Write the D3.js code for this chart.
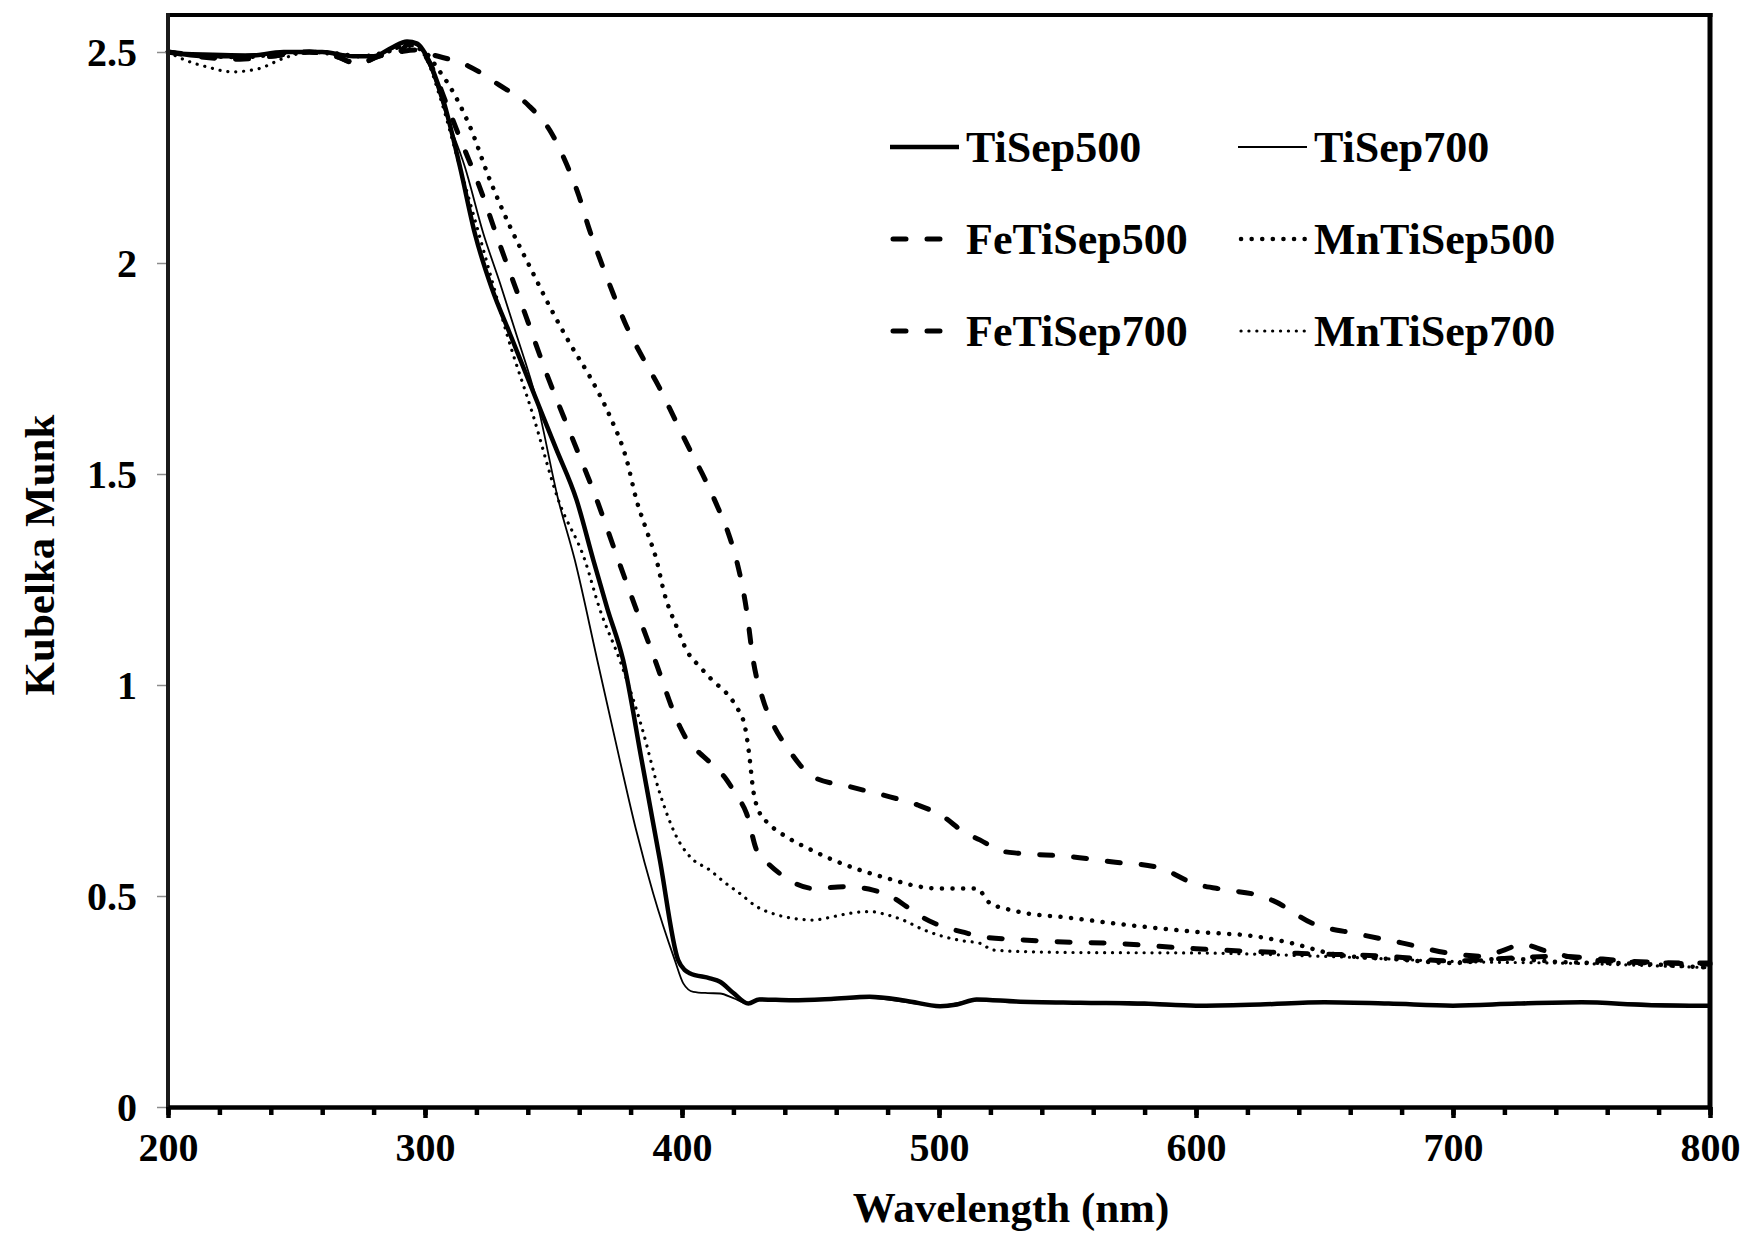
<!DOCTYPE html>
<html>
<head>
<meta charset="utf-8">
<script src="https://cdn.jsdelivr.net/npm/d3@7"></script>
<style>
  body { margin: 0; background: #fff; }
  text { font-family: "Liberation Serif", "Times New Roman", serif; font-weight: bold; fill: #000; }
</style>
</head>
<body>
<svg width="1744" height="1249"></svg>
<script>
// values: [wavelength nm, Kubelka Munk]
var tiSep500 = [[200,2.50],[215,2.49],[230,2.49],[245,2.50],[260,2.50],[272,2.49],[280,2.49],[287,2.51],[293,2.525],[297,2.52],[300,2.497],[303.5,2.45],[307.1,2.386],[313.6,2.228],[319.4,2.07],[326,1.94],[333,1.833],[343.4,1.675],[351,1.56],[359,1.438],[365.5,1.296],[371,1.18],[377.1,1.059],[384.3,0.822],[391.4,0.585],[398.5,0.348],[401,0.325],[403,0.317],[410.9,0.305],[414.8,0.297],[420,0.27],[425.8,0.245],[430,0.255],[443,0.253],[458,0.256],[473,0.261],[487,0.252],[500.4,0.239],[507,0.243],[514.6,0.255],[530,0.25],[555,0.247],[580,0.245],[600,0.24],[625,0.243],[650,0.248],[675,0.245],[700,0.24],[725,0.245],[750,0.248],[775,0.242],[800,0.24]];

var tiSep700 = [[200,2.5],[230,2.495],[260,2.5],[275,2.49],[285,2.5],[293,2.522],[298,2.51],[301.9,2.465],[308.4,2.347],[315.5,2.228],[322.7,2.07],[329.2,1.952],[335,1.841],[343.4,1.675],[351.9,1.438],[358.3,1.296],[367,1.06],[375.8,0.822],[382,0.66],[388.8,0.506],[397.2,0.348],[400.5,0.293],[404.4,0.273],[410,0.27],[414.8,0.269],[420,0.258],[425.8,0.245],[430.3,0.257],[443,0.252],[473,0.258],[500,0.24],[515,0.253],[555,0.247],[600,0.24],[650,0.248],[700,0.24],[750,0.247],[800,0.24]];

var feTiSep500 = [[200,2.5],[215,2.49],[228,2.485],[240,2.49],[255,2.5],[265,2.49],[274,2.473],[282,2.49],[290,2.5],[296,2.505],[303.2,2.493],[316.8,2.467],[328.8,2.422],[340.2,2.374],[349.3,2.307],[355.1,2.234],[360,2.157],[363.8,2.082],[368.7,1.999],[373.3,1.926],[378.5,1.849],[384.5,1.778],[391,1.707],[397.3,1.629],[403.1,1.557],[409.3,1.483],[414,1.42],[418,1.36],[421.2,1.296],[425.1,1.178],[427.7,1.059],[431.6,0.964],[436,0.9],[440.7,0.854],[451.1,0.782],[465.3,0.759],[480.9,0.735],[492,0.715],[501.7,0.688],[510,0.65],[515.9,0.633],[524,0.607],[531.5,0.601],[550,0.594],[567,0.581],[585,0.568],[600,0.528],[611,0.515],[624,0.502],[630,0.489],[645,0.436],[663,0.41],[680,0.389],[700,0.363],[712,0.357],[719,0.37],[727,0.385],[736,0.37],[749,0.352],[766,0.344],[784,0.341],[800,0.341]];

var feTiSep700 = [[200,2.5],[215,2.487],[228,2.483],[240,2.49],[255,2.5],[265,2.49],[274,2.472],[282,2.49],[290,2.5],[294,2.52],[299,2.5],[303,2.46],[307.8,2.386],[314,2.29],[320.7,2.189],[329.2,2.042],[338.2,1.892],[347.3,1.738],[357.1,1.588],[366.4,1.446],[375.2,1.296],[389.5,1.059],[399.2,0.901],[403,0.86],[407,0.838],[412,0.81],[417.4,0.775],[421,0.74],[425.1,0.696],[429,0.609],[433,0.58],[438.1,0.553],[444,0.53],[451.1,0.518],[464,0.522],[474.4,0.514],[481,0.5],[487.4,0.475],[494,0.448],[501.7,0.427],[509,0.415],[517.2,0.403],[530,0.397],[544.5,0.392],[567,0.388],[600,0.375],[641,0.364],[675,0.357],[700,0.346],[720,0.352],[740,0.357],[770,0.345],[800,0.338]];

var mnTiSep500 = [[200,2.5],[215,2.49],[230,2.488],[245,2.497],[260,2.5],[275,2.49],[285,2.5],[293,2.515],[300,2.5],[305,2.46],[309.7,2.418],[317.5,2.323],[325.3,2.196],[333.1,2.086],[340.8,1.991],[348.6,1.896],[356.4,1.809],[364.2,1.73],[372,1.636],[378.5,1.533],[382.3,1.438],[386,1.37],[390.1,1.296],[393,1.22],[397.9,1.138],[402,1.08],[407,1.043],[412,1.01],[417.4,0.98],[421,0.95],[424.5,0.901],[426.4,0.822],[427.5,0.76],[429.7,0.704],[434,0.67],[440.7,0.64],[450,0.61],[458.9,0.585],[470,0.56],[482.2,0.538],[490,0.525],[499.1,0.518],[510,0.518],[514.6,0.518],[519.8,0.483],[526,0.47],[534.1,0.459],[550,0.449],[567,0.436],[600,0.415],[623.6,0.404],[636.6,0.389],[654,0.362],[680,0.349],[700,0.341],[720,0.352],[740,0.344],[770,0.34],[800,0.33]];

var mnTiSep700 = [[200,2.5],[207,2.48],[215,2.465],[225,2.453],[235,2.46],[245,2.485],[255,2.5],[270,2.49],[280,2.49],[290,2.51],[295,2.515],[300,2.49],[306,2.39],[313,2.24],[320,2.09],[326,1.96],[331.8,1.833],[342,1.64],[351.9,1.438],[362.2,1.296],[368,1.18],[375.8,1.059],[384.3,0.901],[391.4,0.743],[397.9,0.64],[403.1,0.593],[410.9,0.561],[416,0.535],[422.5,0.506],[429,0.475],[436,0.457],[443.3,0.447],[451.1,0.443],[458,0.45],[465.3,0.459],[473.1,0.463],[480,0.455],[486,0.443],[494,0.42],[501.7,0.404],[509,0.394],[515.9,0.388],[521.1,0.372],[535,0.368],[554.8,0.366],[600,0.365],[650,0.357],[700,0.345],[750,0.34],[800,0.33]];

var seriesNames = ["TiSep500", "TiSep700", "FeTiSep500", "MnTiSep500", "FeTiSep700", "MnTiSep700"];
var seriesData = [tiSep500, tiSep700, feTiSep500, mnTiSep500, feTiSep700, mnTiSep700];
var xTicks = [200, 300, 400, 500, 600, 700, 800];
var yTicks = [0, 0.5, 1, 1.5, 2, 2.5];

// line looks per series (same order as the names)
var styles = [
  { w: 4.5, dash: null, cap: "butt" },
  { w: 1.8, dash: null, cap: "butt" },
  { w: 5, dash: "13,21", cap: "round" },
  { w: 4.5, dash: "0.1,10.5", cap: "round" },
  { w: 5, dash: "13,21", cap: "round" },
  { w: 3.2, dash: "0.1,7.8", cap: "round" }
];

var svg = d3.select("svg");
var frameTop = 15;

var scaleX = d3.scaleLinear().domain([200, 800]).range([168, 1710]);
var scaleY = d3.scaleLinear().domain([0, 2.5]).range([1107, 52]);

var line = d3.line()
  .x(function(d) { return scaleX(d[0]); })
  .y(function(d) { return scaleY(d[1]); })
  .curve(d3.curveMonotoneX);

// curves
svg.append("g").selectAll("path")
  .data(seriesData)
  .enter()
  .append("path")
  .attr("d", line)
  .attr("fill", "none")
  .attr("stroke", "#000")
  .attr("stroke-width", function(d, i) { return styles[i].w; })
  .attr("stroke-dasharray", function(d, i) { return styles[i].dash; })
  .attr("stroke-linecap", function(d, i) { return styles[i].cap; })
  .attr("stroke-linejoin", "round");

// frame: top and right border
svg.append("line")
  .attr("x1", scaleX(200) - 2).attr("x2", scaleX(800) + 2.5)
  .attr("y1", frameTop).attr("y2", frameTop)
  .attr("stroke", "#000").attr("stroke-width", 4);
svg.append("line")
  .attr("x1", scaleX(800)).attr("x2", scaleX(800))
  .attr("y1", frameTop - 2).attr("y2", scaleY(0))
  .attr("stroke", "#000").attr("stroke-width", 5);

// y axis
var yAxis = svg.append("g")
  .attr("transform", "translate(" + scaleX(200) + ",0)")
  .call(d3.axisLeft(scaleY).tickValues(yTicks).tickSize(11).tickPadding(20).tickFormat(d3.format("")));
yAxis.select(".domain").remove();
yAxis.selectAll("line").attr("stroke", "#8c8c8c").attr("stroke-width", 1.5);
yAxis.selectAll("text").style("font-size", "40px").attr("dy", "0.34em");

svg.append("line")
  .attr("x1", scaleX(200)).attr("x2", scaleX(200))
  .attr("y1", frameTop - 2).attr("y2", scaleY(0) + 2)
  .attr("stroke", "#1a1a1a").attr("stroke-width", 4);

// x axis: minor ticks every 20 nm, major every 100 nm
var xMinor = svg.append("g")
  .attr("transform", "translate(0," + scaleY(0) + ")")
  .call(d3.axisBottom(scaleX).tickValues(d3.range(200, 801, 20)).tickSize(8).tickFormat(""));
xMinor.select(".domain").remove();
xMinor.selectAll("line").attr("stroke", "#000").attr("stroke-width", 4.5);

var xAxis = svg.append("g")
  .attr("transform", "translate(0," + scaleY(0) + ")")
  .call(d3.axisBottom(scaleX).tickValues(xTicks).tickSize(11).tickSizeOuter(0).tickPadding(15));
xAxis.select(".domain").attr("stroke", "#000").attr("stroke-width", 4.5);
xAxis.selectAll("line").attr("stroke", "#000").attr("stroke-width", 4.5);
xAxis.selectAll("text").style("font-size", "40px");

// axis titles
svg.append("text")
  .attr("x", 1011).attr("y", 1222)
  .attr("text-anchor", "middle")
  .style("font-size", "43px")
  .text("Wavelength (nm)");

svg.append("text")
  .attr("transform", "translate(54,555) rotate(-90)")
  .attr("text-anchor", "middle")
  .style("font-size", "43px")
  .text("Kubelka Munk");

// legend, 2 columns x 3 rows
var legend = svg.append("g").selectAll("g")
  .data(seriesNames)
  .enter()
  .append("g")
  .attr("transform", function(d, i) {
    return "translate(" + (890 + (i % 2) * 348) + "," + (147 + Math.floor(i / 2) * 92) + ")";
  });

legend.append("line")
  .attr("x1", function(d, i) { return styles[i].cap == "round" ? 3 : 0; })
  .attr("x2", 69)
  .attr("y1", 0).attr("y2", 0)
  .attr("stroke", "#000")
  .attr("stroke-width", function(d, i) { return styles[i].w; })
  .attr("stroke-dasharray", function(d, i) { return styles[i].dash; })
  .attr("stroke-linecap", function(d, i) { return styles[i].cap; });

legend.append("text")
  .attr("x", 76)
  .attr("y", 15)
  .style("font-size", "44px")
  .text(function(d) { return d; });
</script>
</body>
</html>
